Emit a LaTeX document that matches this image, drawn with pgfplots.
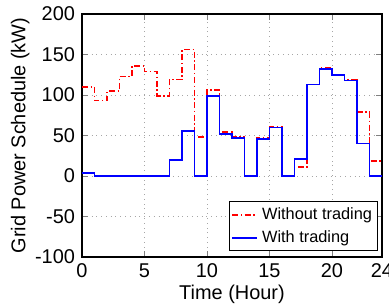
\documentclass[border=0pt]{standalone}
\usepackage{pgfplots}
\pgfplotsset{compat=1.18}
\usepackage{fontspec}
\setmainfont{Liberation Sans}
\begin{document}
\begin{tikzpicture}
\useasboundingbox (-41bp,-24.5bp) rectangle (153.5bp,128.5bp);
\begin{axis}[
  scale only axis, width=150bp, height=121.5bp,
  xmin=0, xmax=24, ymin=-100, ymax=200,
  xtick={0,5,10,15,20,24}, ytick={-100,-50,0,50,100,150,200},
  tick align=inside, major tick length=3bp,
  grid=major, grid style={dotted, gray!70},
  axis line style={line width=0.6pt},
  every tick label/.style={font=\fontsize{10}{12}\selectfont},
  /pgf/number format/assume math mode=true,
  xlabel={Time (Hour)}, ylabel={Grid Power Schedule (kW)},
  label style={font=\fontsize{10}{12}\selectfont},
  xlabel style={yshift=3.5bp},
  ylabel style={yshift=-4bp},
  legend style={at={(1,0)}, anchor=south east, xshift=-2bp, yshift=3bp,
    font=\fontsize{8.2}{9.8}\selectfont, draw=black, inner sep=0.8pt,
    row sep=0pt, cells={anchor=west}},
  legend cell align=left,
  legend image code/.code={\draw[#1] (0bp,0bp) -- (12.5bp,0bp);},
]
\addplot[const plot, color=red, draw=red, dash pattern=on 3bp off 1.3bp on 0.7bp off 1.3bp, line width=0.8pt] coordinates {
(0,110) (1,93) (2,105) (3,123) (4,136) (5,129) (6,99) (7,119) (8,156) (9,48.5)
(10,106) (11,54) (12,48.5) (13,0) (14,47) (15,61) (16,0) (17,11) (18,113)
(19,133) (20,125) (21,119) (22,79) (23,18.5) (24,18.5)};
\addlegendentry{Without trading}
\addplot[const plot, color=blue, draw=blue, line width=0.9pt] coordinates {
(0,4) (1,0) (2,0) (3,0) (4,0) (5,0) (6,0) (7,20) (8,56) (9,0)
(10,99) (11,52) (12,47) (13,0) (14,46) (15,60) (16,0) (17,20.5) (18,113)
(19,132) (20,125) (21,118) (22,40) (23,0) (24,0)};
\addlegendentry{With trading}
\end{axis}
\end{tikzpicture}
\end{document}
